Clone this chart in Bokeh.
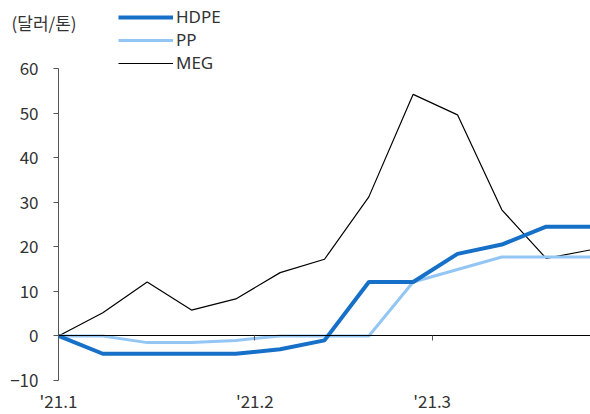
import pandas as pd
from bokeh.plotting import figure
from bokeh.models import (Range1d, FixedTicker, Legend, LegendItem, Label)
from bokeh.embed import file_html
from bokeh.resources import INLINE

# ---- data ----
dates = ["2021-01-01", "2021-01-08", "2021-01-15", "2021-01-22", "2021-01-29",
         "2021-02-05", "2021-02-12", "2021-02-19", "2021-02-26", "2021-03-05",
         "2021-03-12", "2021-03-19", "2021-03-26"]
hdpe = [0, -4.0, -4.0, -4.0, -4.0, -3.0, -1.0, 12.1, 12.1, 18.4, 20.5, 24.5, 24.5]
pp = [0, 0, -1.5, -1.5, -1.0, 0, 0, 0, 12.1, 14.9, 17.7, 17.7, 17.7]
meg = [0, 5.2, 12.1, 5.8, 8.3, 14.2, 17.2, 31.2, 54.2, 49.6, 28.3, 17.4, 19.3]
tick_dates = ["2021-01-01", "2021-02-01", "2021-03-01"]
tick_labels = ["'21.1", "'21.2", "'21.3"]
y_ticks = [-10, 0, 10, 20, 30, 40, 50, 60]
unit_label = "(달러/톤)"

start = pd.Timestamp(dates[0])
x = [(pd.Timestamp(d) - start).days for d in dates]
xt = [(pd.Timestamp(d) - start).days for d in tick_dates]

W, H = 590, 414
# plot area in pixels (frame spans the whole canvas; axes drawn at fixed data positions)
LEFT, RIGHT, TOP, BOTTOM = 58, 590, 68, 380
ymin, ymax = y_ticks[0], y_ticks[-1]
ppu = (BOTTOM - TOP) / (ymax - ymin)
xmin, xmax = x[0], x[-1]
ppd = (RIGHT - LEFT) / (xmax - xmin)

FONT = "Noto Sans CJK KR"
LFONT = "Noto Sans"
TXT = "#333333"
FS = "17px"

p = figure(width=W, height=H, output_backend="svg", toolbar_location=None,
           x_range=Range1d(xmin - LEFT / ppd, xmax + (W - RIGHT) / ppd),
           y_range=Range1d(ymin - (H - BOTTOM) / ppu, ymax + TOP / ppu),
           min_border=0, min_border_left=0, min_border_right=0,
           min_border_top=0, min_border_bottom=0)
p.outline_line_color = None
p.background_fill_color = "white"
p.border_fill_color = "white"
p.xgrid.visible = False
p.ygrid.visible = False

# y axis at x = first date
p.yaxis.fixed_location = xmin
p.yaxis.bounds = (ymin, ymax)
p.yaxis.ticker = FixedTicker(ticks=y_ticks)
p.yaxis.minor_tick_line_color = None
p.yaxis.major_tick_in = 0
p.yaxis.major_tick_out = 5
p.yaxis.axis_line_color = "#555555"
p.yaxis.major_tick_line_color = "#555555"
p.yaxis.major_label_text_font = FONT
p.yaxis.major_label_text_font_size = FS
p.yaxis.major_label_text_color = TXT
p.yaxis.major_label_standoff = 15

# x axis at y = 0, labels pushed down to the bottom
p.xaxis.fixed_location = 0
p.xaxis.bounds = (xmin, xmax)
p.xaxis.ticker = FixedTicker(ticks=xt)
p.xaxis.major_label_overrides = {t: l for t, l in zip(xt, tick_labels)}
p.xaxis.axis_line_color = "black"
p.xaxis.major_tick_line_color = "#555555"
p.xaxis.minor_tick_line_color = None
p.xaxis.major_tick_in = 0
p.xaxis.major_tick_out = 5
p.xaxis.major_label_text_font = FONT
p.xaxis.major_label_text_font_size = FS
p.xaxis.major_label_text_color = TXT
p.xaxis.major_label_standoff = 47

r_meg = p.line(x, meg, line_color="black", line_width=1.2)
r_pp = p.line(x, pp, line_color="#94C6F4", line_width=3)
r_hdpe = p.line(x, hdpe, line_color="#1670C8", line_width=4)

legend = Legend(items=[LegendItem(label="HDPE", renderers=[r_hdpe]),
                       LegendItem(label="PP", renderers=[r_pp]),
                       LegendItem(label="MEG", renderers=[r_meg])],
                location=(118, H - 4 - 70), orientation="vertical",
                glyph_width=55, glyph_height=22, label_height=22,
                label_standoff=3, spacing=0, padding=0, margin=0,
                border_line_color=None, background_fill_alpha=0,
                label_text_font=LFONT, label_text_font_size=FS,
                label_text_color=TXT)
p.add_layout(legend, "center")

p.add_layout(Label(x=11, y=H - 22, x_units="screen", y_units="screen",
                   text=unit_label, text_font=FONT, text_font_size=FS,
                   text_color=TXT, text_baseline="middle"))

open("out.html", "w").write(file_html(p, INLINE))
